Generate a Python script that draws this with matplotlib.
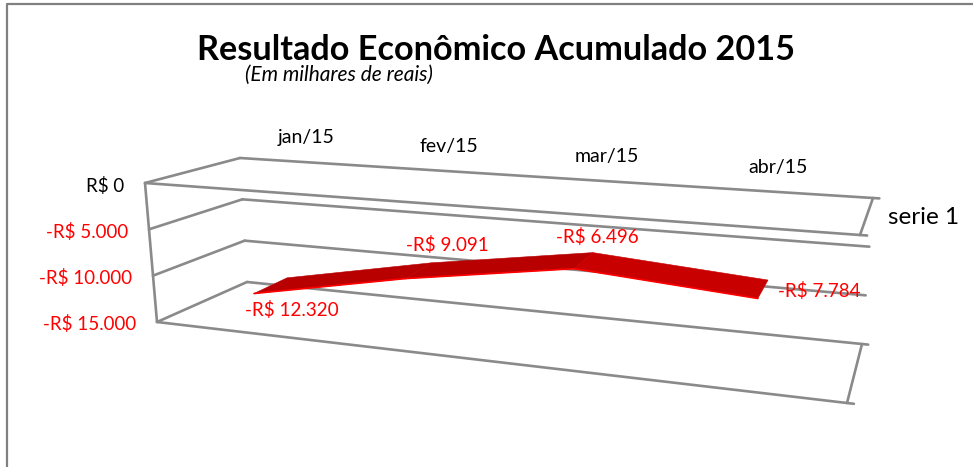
import matplotlib
matplotlib.use("Agg")
import matplotlib.pyplot as plt
import numpy as np

plt.rcParams['font.family'] = ['Lato', 'DejaVu Sans']

months = ['jan/15', 'fev/15', 'mar/15', 'abr/15']
resultado = [-12320, -9091, -6496, -7784]
labels = ['-R$ 12.320', '-R$ 9.091', '-R$ 6.496', '-R$ 7.784']
eixo_valores = [0, -5000, -10000, -15000]
eixo_labels = ['R$ 0', '-R$ 5.000', '-R$ 10.000', '-R$ 15.000']
eixo_min = -15000

GRAY = '#8a8a8a'
RED = '#ff0000'

# corners of the fake 3d box in pixels, keyed (right, bottom, front)
corners = {
    (0, 0, 0): (240, 158), (1, 0, 0): (873, 198),
    (0, 0, 1): (145, 183), (1, 0, 1): (860, 235),
    (0, 1, 0): (247, 282), (1, 1, 0): (862, 344),
    (0, 1, 1): (157, 322), (1, 1, 1): (847, 403),
}

def project(u, value, d):
    v = value / eixo_min
    x, y = 0.0, 0.0
    for (a, b, c), (px, py) in corners.items():
        w = (u if a else 1 - u) * (v if b else 1 - v) * (d if c else 1 - d)
        x += w * px
        y += w * py
    return x, y

def month_u(i):
    # months get wider to the right, same as the excel view
    return 0.107 + 0.2152 * i + 0.01117 * i ** 2

def edge(ax, p, q, lw=1.9):
    ax.plot([p[0], q[0]], [p[1], q[1]], color=GRAY, lw=lw, solid_capstyle='round', zorder=1)

fig = plt.figure(figsize=(9.73, 4.67), dpi=100)
ax = fig.add_axes([0, 0, 1, 1])
ax.set_xlim(0, 973)
ax.set_ylim(467, 0)
ax.axis('off')

# outer chart border, open to the right and the bottom
ax.plot([7, 7, 973], [467, 3.5, 3.5], color='#808080', lw=1.6, zorder=1)

# grid, only the top and bottom lines stick out past the box
for val in eixo_valores:
    end = 1.01 if val in (0, eixo_min) else 1.0
    edge(ax, project(0, val, 1), project(0, val, 0))
    edge(ax, project(0, val, 0), project(end, val, 0))
edge(ax, project(0, 0, 1), project(1.01, 0, 1))
edge(ax, project(0, eixo_min, 1), project(1.01, eixo_min, 1))
edge(ax, project(0, 0, 1), project(0, eixo_min, 1))
edge(ax, project(1, 0, 0), project(1, 0, 1))
edge(ax, project(1, eixo_min, 0), project(1, eixo_min, 1))

# ribbon
d_back, d_front = 0.3, 0.7
seg_colors = ['#b80000', '#b80000', '#c80000']
for i in range(len(resultado) - 1):
    p = [project(month_u(i), resultado[i], d_back),
         project(month_u(i + 1), resultado[i + 1], d_back),
         project(month_u(i + 1), resultado[i + 1], d_front),
         project(month_u(i), resultado[i], d_front)]
    ax.fill([q[0] for q in p], [q[1] for q in p], facecolor=seg_colors[i],
            edgecolor=seg_colors[i], lw=0.4, zorder=2)
    ax.plot([p[2][0], p[3][0]], [p[2][1], p[3][1]], color=RED, lw=1.2,
            solid_capstyle='round', zorder=3)

# value axis labels
for val, txt in zip(eixo_valores, eixo_labels):
    x, y = project(0, val, 1)
    ax.text(x - 21, y + 2.5, txt, ha='right', va='center', fontsize=13.5,
            color='black' if val == 0 else RED, zorder=4)

# month labels
for i, m in enumerate(months):
    x, y = project(month_u(i), 0, 0)
    ax.text(x - 2, y - 25, m, ha='center', va='center', fontsize=14, color='black', zorder=4)

# data labels, moved by hand off the ribbon
offsets = [(21, 24), (29, -26), (14, -24), (56, 2)]
for i, txt in enumerate(labels):
    x, y = project(month_u(i), resultado[i], 0.5)
    ax.text(x + offsets[i][0], y + offsets[i][1], txt, ha='center', va='center',
            fontsize=13.6, color=RED, zorder=4)

ax.text(496, 50, 'Resultado Econômico Acumulado 2015', ha='center', va='center',
        fontsize=24.7, fontweight='bold', color='black')
ax.text(339, 75, '(Em milhares de reais)', ha='center', va='center',
        fontsize=15, style='italic', color='black')
ax.text(888, 218, 'serie 1', ha='left', va='center', fontsize=17.5, color='black')

fig.savefig('out.png', dpi=100)
plt.close(fig)
